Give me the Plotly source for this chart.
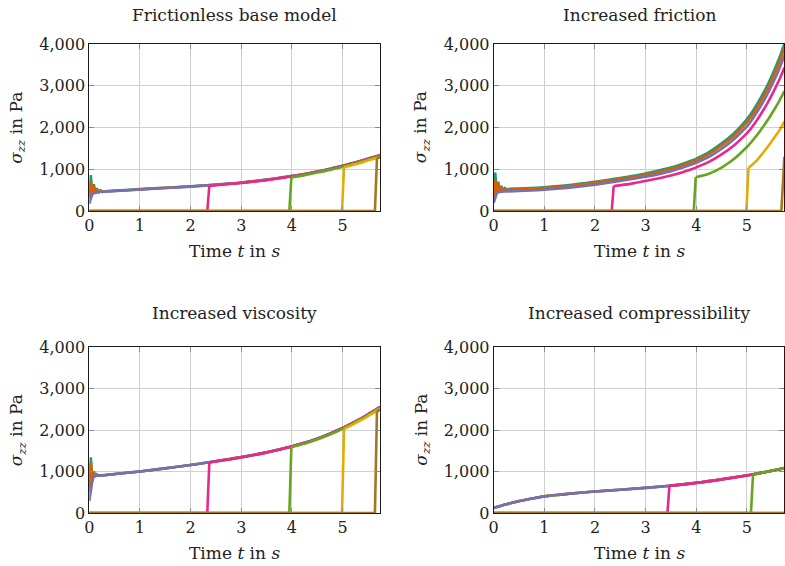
import plotly.graph_objects as go

# ---------------------------------------------------------------- data
# Time samples (s) shared by the first three panels
T_GRID = [0, 0.03, 0.06, 0.09, 0.12, 0.15, 0.18, 0.22, 0.26, 0.3, 0.6, 1.0,
          1.5, 2.0, 2.33, 2.37, 2.7, 3.0, 3.5, 3.95, 3.99, 4.25, 4.5, 4.75,
          4.99, 5.03, 5.2, 5.4, 5.55, 5.64, 5.68, 5.74]

# Frictionless base model, sigma_zz in Pa
BASE_1 = [350, 860, 400, 640, 420, 550, 440, 495, 455, 472, 493, 523, 558, 593,
          618, 621, 653, 683, 753, 833, 840, 888, 948, 1013, 1083, 1093, 1148,
          1218, 1273, 1303, 1318, 1343]
BASE_2 = [300, 720, 380, 590, 410, 520, 445, 485, 458, 468, 488, 518, 553, 588,
          613, 616, 648, 678, 748, 828, 835, 883, 943, 1008, 1078, 1088, 1143,
          1213, 1268, 1298, 1313, 1338]
BASE_3 = [180, 330, 410, 440, 452, 458, 460, 462, 463, 465, 485, 515, 550, 585,
          610, 613, 645, 675, 745, 825, 832, 880, 940, 1005, 1075, 1085, 1140,
          1210, 1265, 1295, 1310, 1335]
BASE_4 = [0, 0, 0, 0, 0, 0, 0, 0, 0, 0, 0, 0, 0, 0,
          0, 600, 640, 670, 740, 820, 827, 875, 935, 1000, 1070, 1080, 1135,
          1205, 1260, 1290, 1305, 1330]
BASE_5 = [0, 0, 0, 0, 0, 0, 0, 0, 0, 0, 0, 0, 0, 0,
          0, 0, 0, 0, 0, 0, 805, 860, 920, 985, 1055, 1065, 1120,
          1190, 1245, 1275, 1290, 1315]
BASE_6 = [0, 0, 0, 0, 0, 0, 0, 0, 0, 0, 0, 0, 0, 0,
          0, 0, 0, 0, 0, 0, 0, 0, 0, 0, 0, 1045, 1100,
          1170, 1225, 1255, 1270, 1295]
BASE_7 = [0, 0, 0, 0, 0, 0, 0, 0, 0, 0, 0, 0, 0, 0,
          0, 0, 0, 0, 0, 0, 0, 0, 0, 0, 0, 0, 0,
          0, 0, 0, 1260, 1290]

# Increased friction
FRIC_1 = [380, 920, 450, 700, 470, 600, 490, 550, 515, 530, 545, 570, 620, 700,
          760, 767, 830, 900, 1040, 1230, 1250, 1410, 1620, 1870, 2185, 2245,
          2560, 3000, 3400, 3670, 3800, 4010]
FRIC_2 = [320, 760, 420, 640, 450, 570, 480, 530, 500, 510, 525, 550, 600, 675,
          735, 742, 805, 870, 1005, 1190, 1210, 1365, 1570, 1810, 2115, 2175,
          2480, 2910, 3300, 3565, 3690, 3900]
FRIC_3 = [200, 340, 420, 448, 458, 463, 466, 468, 469, 470, 485, 510, 560, 630,
          690, 697, 760, 820, 955, 1130, 1150, 1295, 1490, 1725, 2015, 2070,
          2370, 2790, 3160, 3410, 3530, 3730]
FRIC_4 = [0, 0, 0, 0, 0, 0, 0, 0, 0, 0, 0, 0, 0, 0,
          0, 600, 650, 720, 850, 1020, 1040, 1175, 1355, 1575, 1850, 1900,
          2180, 2570, 2920, 3150, 3260, 3440]
FRIC_5 = [0, 0, 0, 0, 0, 0, 0, 0, 0, 0, 0, 0, 0, 0,
          0, 0, 0, 0, 0, 0, 810, 890, 1040, 1250, 1520, 1570,
          1820, 2160, 2450, 2640, 2730, 2870]
FRIC_6 = [0, 0, 0, 0, 0, 0, 0, 0, 0, 0, 0, 0, 0, 0,
          0, 0, 0, 0, 0, 0, 0, 0, 0, 0, 0, 1030,
          1220, 1520, 1770, 1930, 2010, 2150]
FRIC_7 = [0, 0, 0, 0, 0, 0, 0, 0, 0, 0, 0, 0, 0, 0,
          0, 0, 0, 0, 0, 0, 0, 0, 0, 0, 0, 0,
          0, 0, 0, 0, 0, 1300]

# Increased viscosity
VISC_1 = [600, 1340, 820, 1000, 880, 930, 900, 910, 905, 912, 952, 1002, 1077,
          1157, 1217, 1224, 1287, 1347, 1462, 1592, 1604, 1692, 1792, 1912,
          2042, 2064, 2172, 2302, 2412, 2477, 2507, 2557]
VISC_2 = [500, 1220, 770, 960, 890, 915, 905, 908, 907, 910, 951, 1001, 1076,
          1156, 1216, 1223, 1286, 1346, 1461, 1591, 1603, 1691, 1791, 1911,
          2041, 2063, 2171, 2301, 2411, 2476, 2506, 2556]
VISC_3 = [290, 560, 780, 890, 900, 905, 907, 908, 909, 910, 950, 1000, 1075,
          1155, 1215, 1222, 1285, 1345, 1460, 1590, 1602, 1690, 1790, 1910,
          2040, 2062, 2170, 2300, 2410, 2475, 2505, 2555]
VISC_4 = [0, 0, 0, 0, 0, 0, 0, 0, 0, 0, 0, 0, 0,
          0, 0, 1215, 1280, 1340, 1455, 1585, 1597, 1685, 1785, 1905,
          2035, 2057, 2165, 2295, 2405, 2470, 2500, 2550]
VISC_5 = [0, 0, 0, 0, 0, 0, 0, 0, 0, 0, 0, 0, 0,
          0, 0, 0, 0, 0, 0, 0, 1590, 1670, 1770, 1890,
          2020, 2042, 2150, 2280, 2390, 2455, 2485, 2535]
VISC_6 = [0, 0, 0, 0, 0, 0, 0, 0, 0, 0, 0, 0, 0,
          0, 0, 0, 0, 0, 0, 0, 0, 0, 0, 0,
          0, 2030, 2130, 2260, 2370, 2435, 2465, 2515]
VISC_7 = [0, 0, 0, 0, 0, 0, 0, 0, 0, 0, 0, 0, 0,
          0, 0, 0, 0, 0, 0, 0, 0, 0, 0, 0,
          0, 0, 0, 0, 0, 0, 2450, 2490]

# Increased compressibility (own time samples)
T_COMP = [0, 0.25, 0.5, 0.75, 1.0, 1.5, 2.0, 2.5, 3.0, 3.43, 3.47, 4.0, 4.5,
          5.08, 5.12, 5.4, 5.74]
COMP_1 = [125, 212, 287, 347, 402, 467, 519, 562, 607, 652, 657, 727, 812,
          922, 932, 997, 1082]
COMP_2 = [122, 211, 286, 346, 401, 466, 518, 561, 606, 651, 656, 726, 811,
          921, 931, 996, 1081]
COMP_3 = [120, 210, 285, 345, 400, 465, 517, 560, 605, 650, 655, 725, 810,
          920, 930, 995, 1080]
COMP_4 = [0, 0, 0, 0, 0, 0, 0, 0, 0, 0, 655, 725, 810, 920, 930, 995, 1080]
COMP_5 = [0, 0, 0, 0, 0, 0, 0, 0, 0, 0, 0, 0, 0, 0, 925, 993, 1080]
COMP_6 = [0] * len(T_COMP)
COMP_7 = [0] * len(T_COMP)

PANEL_TITLES = ["Frictionless base model", "Increased friction",
                "Increased viscosity", "Increased compressibility"]
X_TICKS = [0, 1, 2, 3, 4, 5]
Y_TICKS = [0, 1000, 2000, 3000, 4000]
SERIES_NAMES = ["Probe 1", "Probe 2", "Probe 3", "Probe 4",
                "Probe 5", "Probe 6", "Probe 7"]

# ---------------------------------------------------------------- styling
COLORS = ["#1b9e77", "#d95f02", "#7570b3", "#e7298a",
          "#66a61e", "#e6ab02", "#a6761d"]
FONT = "DejaVu Serif"
W, H = 785, 566
X_MAX = 5.74

# subplot frames in pixels (left, right, top, bottom, title offset)
FRAMES = [(89.3, 380.0, 44.0, 211.0, 29), (493.7, 784.4, 44.0, 211.0, 29),
          (89.3, 380.0, 347.0, 513.0, 34), (493.7, 784.4, 347.0, 513.0, 34)]

panels = [
    (T_GRID, [BASE_1, BASE_2, BASE_3, BASE_4, BASE_5, BASE_6, BASE_7], 9),
    (T_GRID, [FRIC_1, FRIC_2, FRIC_3, FRIC_4, FRIC_5, FRIC_6, FRIC_7], 9),
    (T_GRID, [VISC_1, VISC_2, VISC_3, VISC_4, VISC_5, VISC_6, VISC_7], 9),
    (T_COMP, [COMP_1, COMP_2, COMP_3, COMP_4, COMP_5, COMP_6, COMP_7], 0),
]

fig = go.Figure()


def add_series(t, v, color, name, axis_idx, smooth_from):
    xa = "x" if axis_idx == 1 else f"x{axis_idx}"
    ya = "y" if axis_idx == 1 else f"y{axis_idx}"
    common = dict(xaxis=xa, yaxis=ya, mode="lines", name=name,
                  showlegend=False, cliponaxis=False, hoverinfo="skip")
    nonzero = [i for i, val in enumerate(v) if val != 0]
    if not nonzero:
        fig.add_trace(go.Scatter(x=t, y=v, line=dict(color=color, width=2.6),
                                 **common))
        return
    k = max(nonzero[0], smooth_from)
    # ramp-in part (zeros, jump and start-up oscillation) drawn straight
    fig.add_trace(go.Scatter(x=t[:k + 1], y=v[:k + 1],
                             line=dict(color=color, width=2.6), **common))
    # smooth evolution afterwards
    fig.add_trace(go.Scatter(x=t[k:], y=v[k:],
                             line=dict(color=color, width=2.6, shape="spline",
                                       smoothing=0.8), **common))


for p, (t, series, smooth_from) in enumerate(panels, start=1):
    for s, v in enumerate(series):
        add_series(t, v, COLORS[s], SERIES_NAMES[s], p, smooth_from)

layout = dict(width=W, height=H, paper_bgcolor="white", plot_bgcolor="white",
              margin=dict(l=0, r=0, t=0, b=0, autoexpand=False),
              font=dict(family=FONT, size=16, color="#222222"))

annotations = []
for p, (l, r, top, bot, toff) in enumerate(FRAMES, start=1):
    xk = "xaxis" if p == 1 else f"xaxis{p}"
    yk = "yaxis" if p == 1 else f"yaxis{p}"
    ya = "y" if p == 1 else f"y{p}"
    xa = "x" if p == 1 else f"x{p}"
    axis_common = dict(showgrid=True, gridcolor="#d0d0d0", gridwidth=1.3,
                       zeroline=False, showline=True, linecolor="#1a1a1a",
                       linewidth=1, mirror="ticks", ticks="inside",
                       ticklen=5, tickwidth=1.3, tickcolor="#8a8a8a",
                       tickfont=dict(family=FONT, size=16, color="#222222"))
    layout[xk] = dict(domain=[l / W, r / W], range=[0, X_MAX],
                      tickvals=X_TICKS, anchor=ya, **axis_common)
    layout[yk] = dict(domain=[1 - bot / H, 1 - top / H], range=[0, 4000],
                      tickvals=Y_TICKS, tickformat=",d", anchor=xa,
                      **axis_common)
    cx = (l + r) / 2
    annotations.append(dict(text=PANEL_TITLES[p - 1], x=cx / W,
                            y=1 - (top - toff) / H, xref="paper", yref="paper",
                            showarrow=False, xanchor="center", yanchor="middle",
                            font=dict(family=FONT, size=17, color="#222222")))
    annotations.append(dict(text="Time <i>t</i> in <i>s</i>", x=cx / W,
                            y=1 - (bot + 40) / H, xref="paper", yref="paper",
                            showarrow=False, xanchor="center", yanchor="middle",
                            font=dict(family=FONT, size=17, color="#222222")))
    annotations.append(dict(text="<i>σ</i><sub><i>zz</i></sub> in Pa",
                            x=(l - 72) / W, y=1 - (top + bot) / 2 / H,
                            xref="paper", yref="paper", showarrow=False,
                            textangle=-90, xanchor="center", yanchor="middle",
                            font=dict(family=FONT, size=17, color="#222222")))

layout["annotations"] = annotations
fig.update_layout(**layout)
fig.write_html("out.html")
